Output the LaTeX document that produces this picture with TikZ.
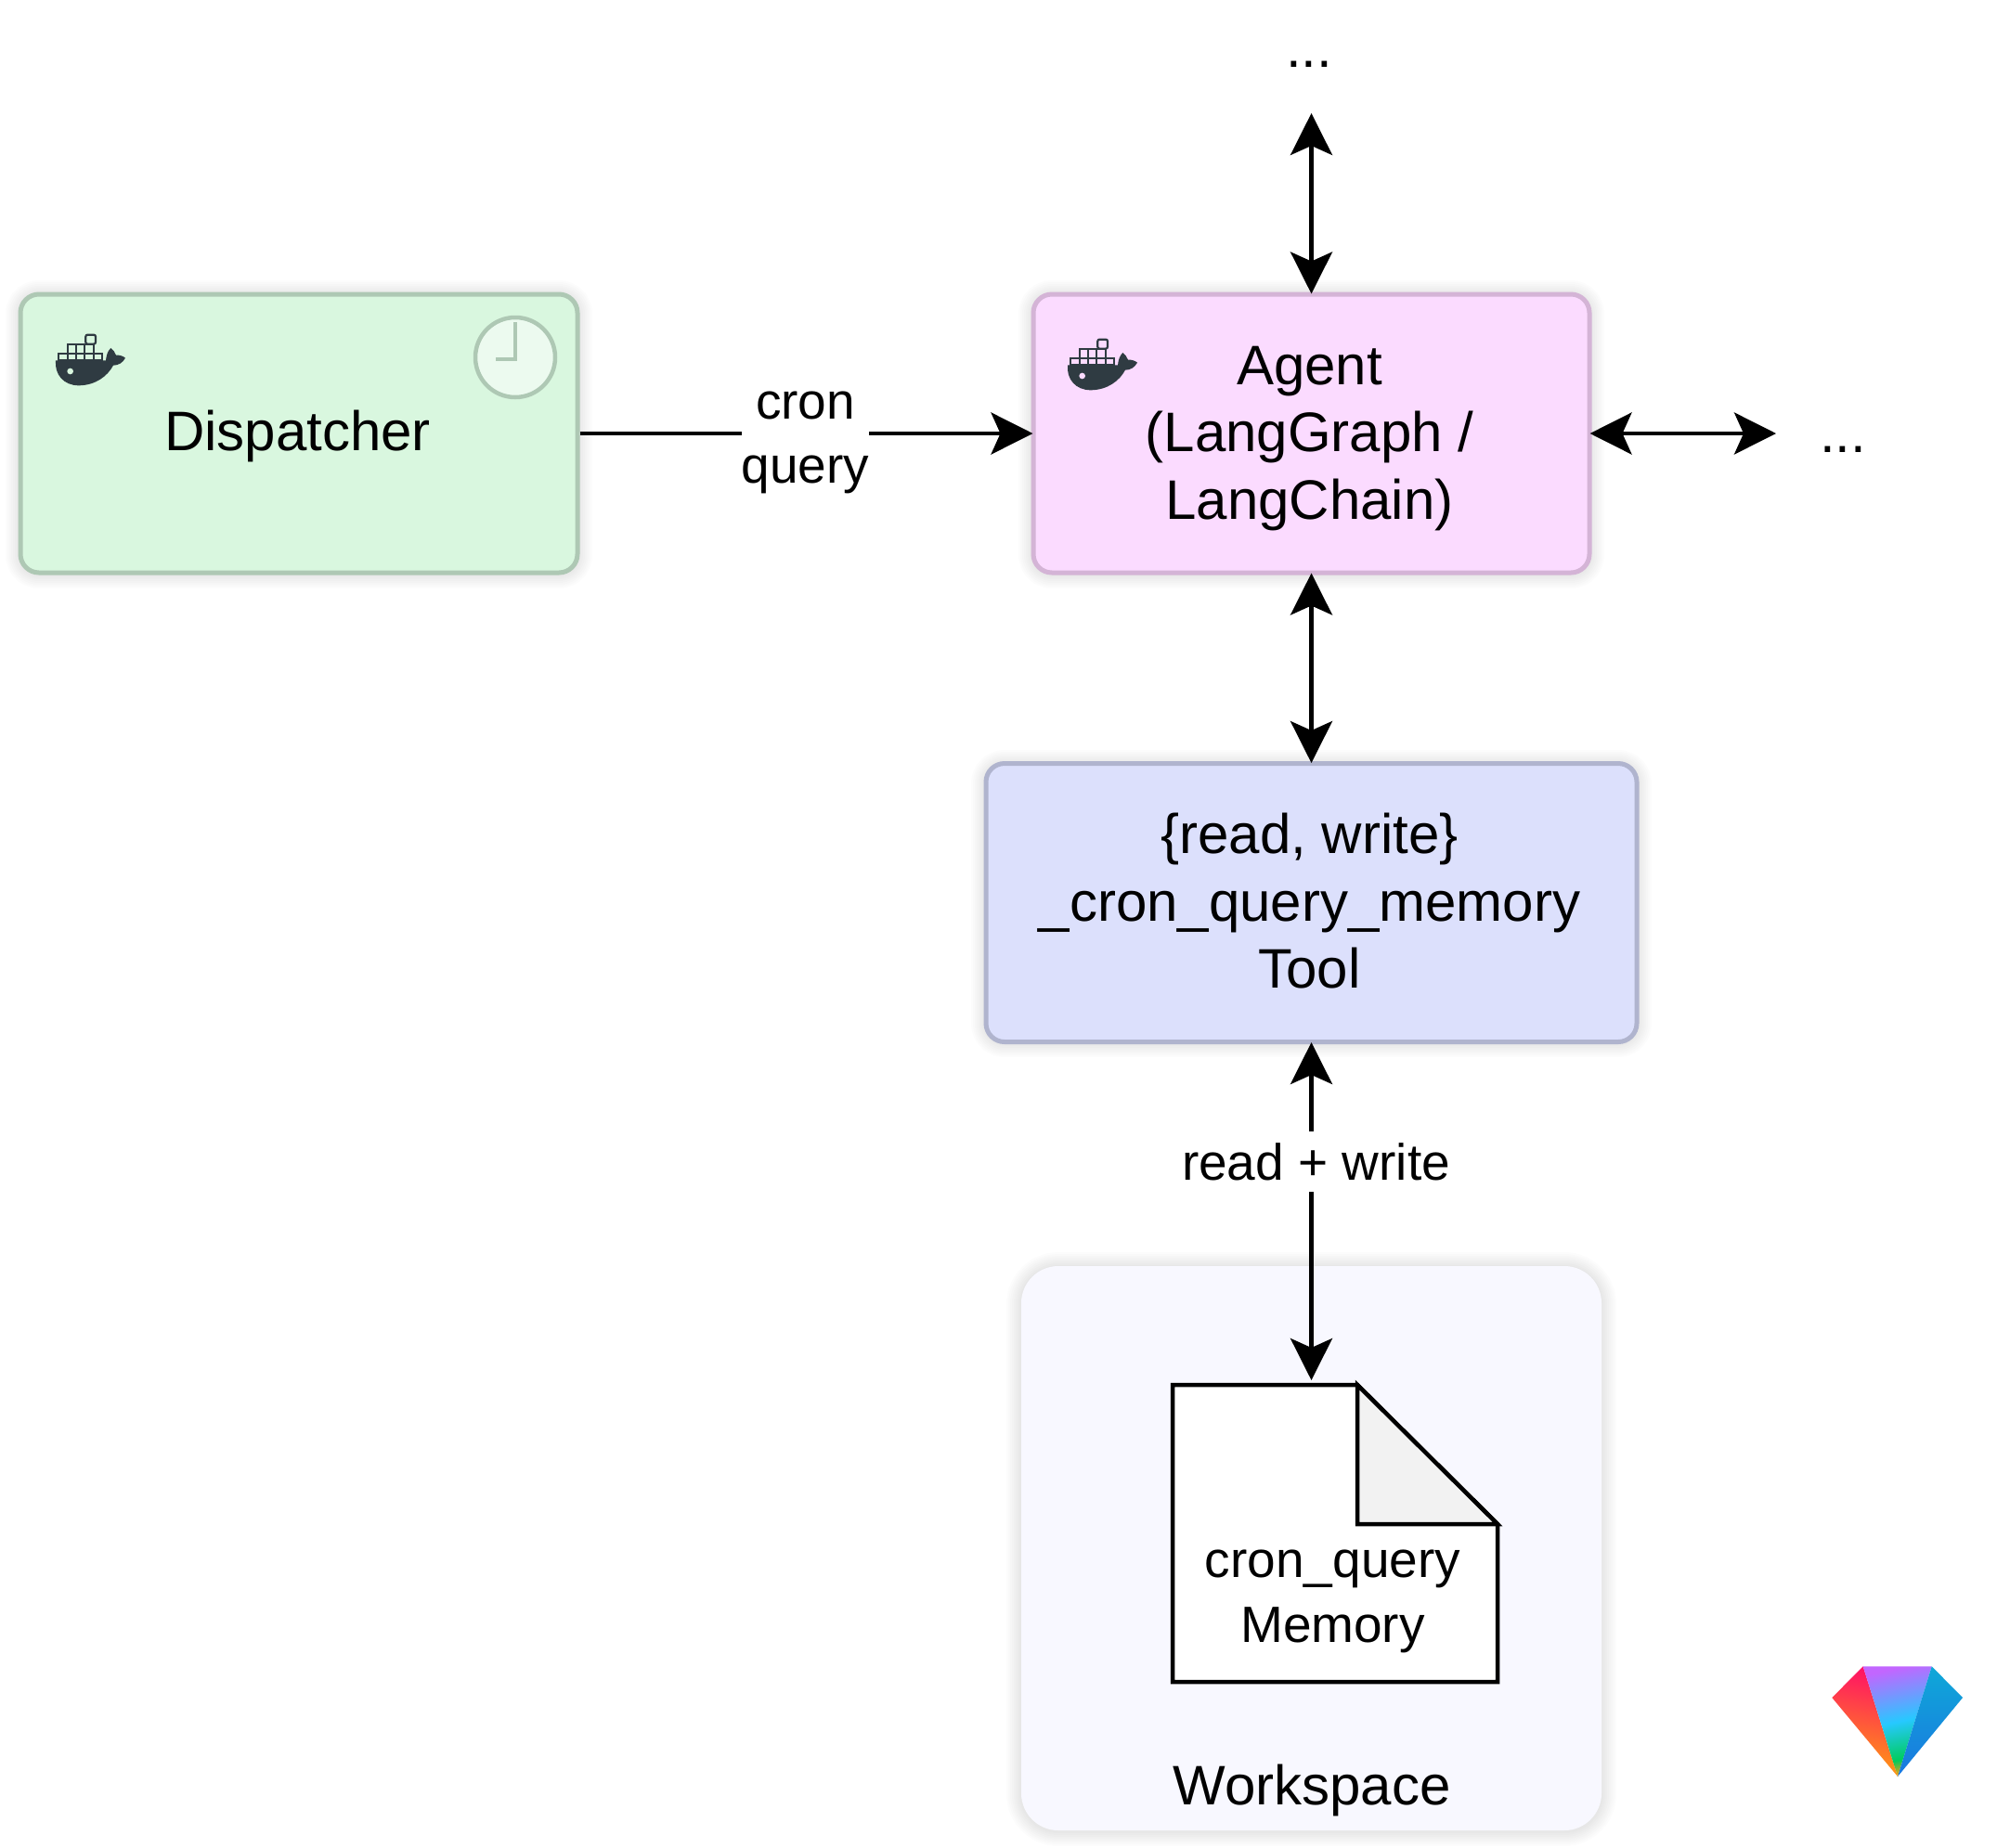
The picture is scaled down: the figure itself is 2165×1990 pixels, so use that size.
\documentclass[tikz,border=0pt]{standalone}
\usepackage{fontspec}
\setmainfont{Liberation Sans}
\usetikzlibrary{arrows.meta}
\definecolor{dispfill}{HTML}{D9F7DF}
\definecolor{displine}{HTML}{AEC8B4}
\definecolor{clockfill}{HTML}{ECFAEF}
\definecolor{agentfill}{HTML}{FBDBFF}
\definecolor{agentline}{HTML}{D4B4D6}
\definecolor{toolfill}{HTML}{DCE0FC}
\definecolor{toolline}{HTML}{B0B4CE}
\definecolor{wsfill}{HTML}{F8F8FF}
\definecolor{foldfill}{HTML}{F2F2F2}
\definecolor{whalecol}{HTML}{2F3B42}
\definecolor{gemA}{HTML}{FF1166}
\definecolor{gemB}{HTML}{FF9C10}
\definecolor{gemC}{HTML}{0FA8D8}
\definecolor{gemD}{HTML}{1A78E0}
\pgfdeclareverticalshading{gemmid}{100bp}{color(0bp)=(gemB); color(25bp)=(gemB); color(32bp)=(green!55!cyan!80!black); color(50bp)=(cyan!75!blue!85!white); color(75bp)=(blue!40!magenta!60!white); color(100bp)=(blue!40!magenta!60!white)}
\tikzset{
  big/.style={font=\fontsize{60}{72.5}\selectfont,align=center,inner sep=0pt},
  mid/.style={font=\fontsize{55}{69}\selectfont,align=center,inner sep=0pt},
  small/.style={font=\fontsize{55}{70}\selectfont,align=center,inner sep=0pt},
  card/.style={rectangle,rounded corners=20pt,line width=5pt,inner sep=0pt,minimum height=300pt},
  dbl/.style={line width=4.2pt,shorten <=-2pt,shorten >=-2pt,{Stealth[length=45pt,width=45pt,inset=10pt]}-{Stealth[length=45pt,width=45pt,inset=10pt]}},
  sgl/.style={line width=4.2pt,shorten >=-2pt,-{Stealth[length=45pt,width=45pt,inset=10pt]}},
  edgelabel/.style={mid,fill=white}
}
\newcommand{\softshadow}[5]{%
  \foreach \e in {2,4,...,16}{%
    \fill[black,opacity=0.012,rounded corners={#5+\e*1pt}]
      ({#1-\e},{#2-\e+1}) rectangle ({#3+\e},{#4+\e+1});
  }}
\newcommand{\whale}[3]{%
  \begin{scope}[shift={(#1,#2)},x=0.3333pt,y=-0.3333pt]
    \fill[whalecol] (150,280) -- (312,280) .. controls (314,262) and (318,250) .. (328,240)
      .. controls (336,246) and (342,254) .. (345,263) .. controls (355,262) and (367,265) .. (375,272)
      .. controls (367,288) and (352,296) .. (336,296) .. controls (318,330) and (280,360) .. (225,361)
      .. controls (175,361) and (146,325) .. (150,280) -- cycle;
    \fill[#3] (197,315) circle[radius=10];
    \begin{scope}[draw=whalecol,line width=2.2pt,fill=#3]
      \foreach \cx in {160,188,216,244,272}{\filldraw (\cx,257) rectangle ++(28,21);}
      \foreach \cx in {188,216,244}{\filldraw (\cx,227) rectangle ++(28,30);}
      \filldraw[rounded corners=2pt] (247,197) rectangle ++(32,30);
    \end{scope}
  \end{scope}}
\begin{document}
\begin{tikzpicture}[x=1pt,y=-1pt]
\useasboundingbox[fill=white] (0,0) rectangle (2165,1990);
% shadows
\softshadow{22}{317}{622}{617}{20}
\softshadow{1113}{317}{1712}{617}{20}
\softshadow{1062}{823}{1763}{1122}{20}
\softshadow{1100}{1364}{1725}{1972}{40}
% workspace
\node[rectangle,rounded corners=40pt,fill=wsfill,minimum width=625pt,minimum height=608pt,inner sep=0pt] (workspace) at (1412.5,1668) {};
\node[big,anchor=base] (workspacelabel) at (1413,1944) {Workspace};
% boxes
\node[card,draw=displine,fill=dispfill,minimum width=600pt] (dispatcher) at (322,467) {};
\node[big,anchor=base] (dispatcherlabel) at (320.5,485) {Dispatcher};
\node[card,draw=agentline,fill=agentfill,minimum width=599pt] (agent) at (1412.5,467) {};
\node[big] (agentlabel) at (1410.5,472.5) {Agent\\(LangGraph /\\LangChain)};
\node[card,draw=toolline,fill=toolfill,minimum width=701pt] (tool) at (1412.5,972.5) {};
\node[big] (toollabel) at (1410.5,971) {\{read, write\}\\\_cron\_query\_memory\\Tool};
% clock
\draw[displine,fill=clockfill,line width=4.5pt] (555,385) circle[radius=43];
\draw[displine,line width=4pt] (555,347) -- (555,387) -- (534,387);
% whales
\whale{10}{295}{dispfill}
\whale{1100}{300}{agentfill}
% document
\filldraw[draw=black,fill=white,line width=4.5pt] (1263,1492) -- (1462,1492) -- (1613,1642) -- (1613,1812) -- (1263,1812) -- cycle;
\filldraw[draw=black,fill=foldfill,line width=4.5pt,line join=miter] (1462,1492) -- (1613,1642) -- (1462,1642) -- cycle;
\node[small,minimum width=350pt,minimum height=320pt,outer sep=7pt] (doc) at (1438,1652) {};
\node[small,anchor=base] (doctext) at (1435.5,1769) {cron\_query\\Memory};
% free ends
\coordinate (topend) at (1412.5,124);
\coordinate (rightend) at (1911,467);
\node[big,anchor=base] (topdots) at (1410,72) {...};
\node[big,anchor=base] (rightdots) at (1985,487) {...};
% connectors
\draw[dbl] (topend) -- (agent.north);
\draw[dbl] (agent.east) -- (rightend);
\draw[dbl] (agent.south) -- (tool.north);
\draw[sgl] (dispatcher.east) -- node[edgelabel,midway,yshift=-10pt] (cronlabel) {cron\\query} (agent.west);
\draw[dbl] (tool.south) -- node[edgelabel,pos=0.351,xshift=5pt,minimum height=65pt] (rwlabel) {read + write} (tool.south |- doc.north);
% gem
\begin{scope}
  \clip (1973.3,1829) -- (2006.7,1795.3) -- (2044,1914) -- cycle;
  \shade[top color=gemA,bottom color=gemB,shading angle=-10] (1965,1795) rectangle (2050,1914);
\end{scope}
\begin{scope}
  \clip (2006.7,1795.3) -- (2080.7,1795.3) -- (2044,1914) -- cycle;
  \shade[shading=gemmid,shading angle=12] (2000,1795.3) rectangle (2090,1914);
\end{scope}
\begin{scope}
  \clip (2080.7,1795.3) -- (2114,1829) -- (2044,1914) -- cycle;
  \shade[top color=gemC,bottom color=gemD] (2040,1795.3) rectangle (2118,1914);
\end{scope}
\end{tikzpicture}
\end{document}
